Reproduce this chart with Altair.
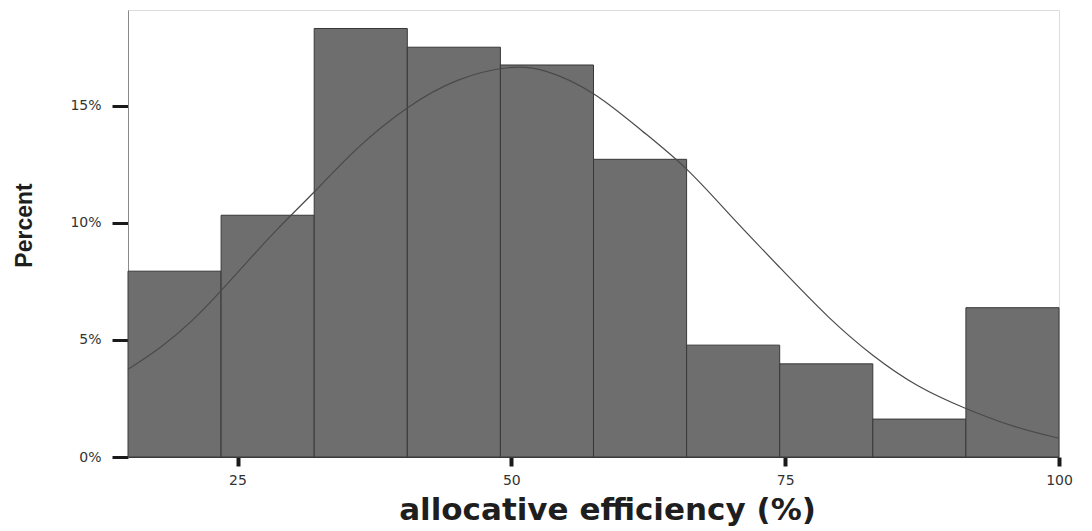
import altair as alt
import pandas as pd

# Histogram bins (allocative efficiency %, bin edges) and percent of cases
bin_start = [15.0, 23.5, 32.0, 40.5, 49.0, 57.5, 66.0, 74.5, 83.0, 91.5]
bin_end = [23.5, 32.0, 40.5, 49.0, 57.5, 66.0, 74.5, 83.0, 91.5, 100.0]
percent = [7.94, 10.33, 18.31, 17.51, 16.75, 12.72, 4.78, 3.98, 1.62, 6.38]

# Fitted normal curve
curve_x = [15.0, 18.0, 21.0, 23.5, 26.0, 28.5, 32.0, 36.0, 40.5, 45.0, 50.0,
           53.0, 57.5, 62.0, 66.0, 70.0, 74.5, 79.0, 83.0, 87.0, 91.5, 96.0, 100.0]
curve_y = [3.75, 4.65, 5.85, 7.10, 8.40, 9.70, 11.30, 13.30, 15.00, 16.20, 16.75,
           16.60, 15.66, 13.90, 12.40, 10.30, 8.10, 5.90, 4.30, 3.00, 2.05, 1.25, 0.80]

x_ticks = [25, 50, 75, 100]
y_ticks = [0, 5, 10, 15]

bars = pd.DataFrame({"start": bin_start, "end": bin_end, "pct": percent})
curve = pd.DataFrame({"x": curve_x, "y": curve_y})

x_scale = alt.Scale(domain=[15, 100], nice=False, zero=False)
y_scale = alt.Scale(domain=[0, 19.1], nice=False)

x_axis = alt.Axis(
    values=x_ticks, grid=False, title="allocative efficiency (%)",
    domainColor="#3a3a3a", domainWidth=1.2,
    tickColor="#1a1a1a", tickWidth=4, tickSize=9,
    labelFont="DejaVu Sans", labelFontSize=14, labelColor="#333333",
    labelPadding=7, labelFlush=False,
    titleFont="DejaVu Sans", titleFontWeight="bold", titleFontSize=31,
    titleColor="#1e1e1e", titleX=479, titleY=62, titleAlign="center",
    titleBaseline="alphabetic", titleAnchor="middle",
)
y_axis = alt.Axis(
    values=y_ticks, grid=False, title="Percent",
    labelExpr="datum.value + '%'",
    domainColor="#8a8a8a", domainWidth=1,
    tickColor="#1a1a1a", tickWidth=3, tickSize=16,
    labelFont="DejaVu Sans", labelFontSize=14, labelColor="#333333",
    labelPadding=11,
    titleFont="Liberation Sans", titleFontWeight="bold", titleFontSize=23,
    titleColor="#1e1e1e", titleAngle=270, titleX=-104, titleY=215,
    titleAlign="center", titleBaseline="middle",
)

hist = alt.Chart(bars).mark_rect(
    color="#6e6e6e", stroke="#383838", strokeWidth=1
).encode(
    x=alt.X("start:Q", scale=x_scale, axis=x_axis),
    x2="end:Q",
    y=alt.Y("pct:Q", scale=y_scale, axis=y_axis),
    y2=alt.datum(0),
)

line = alt.Chart(curve).mark_line(
    color="#4a4a4a", strokeWidth=1.2, interpolate="basis"
).encode(
    x=alt.X("x:Q", scale=x_scale),
    y=alt.Y("y:Q", scale=y_scale),
)

chart = alt.layer(hist, line).properties(
    width=931, height=447,
    autosize=alt.AutoSizeParams(type="none"),
    padding={"left": 120, "top": 2, "right": 24, "bottom": 78},
).configure_view(
    stroke="#b4b4b4", strokeWidth=1
).configure(background="white")

chart.save("out.html", embed_options={"renderer": "svg", "actions": False})
